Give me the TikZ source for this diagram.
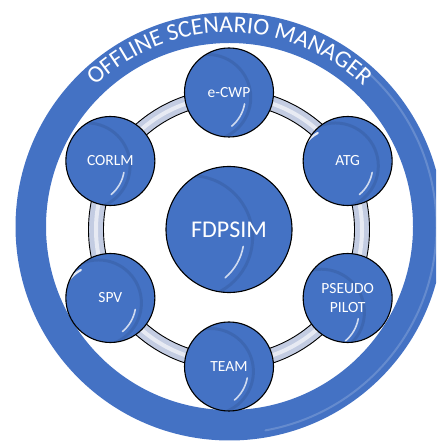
\documentclass[tikz,border=0pt]{standalone}
\usepackage{fontspec}
\setmainfont{Carlito}
\usetikzlibrary{decorations.text}
\definecolor{ballblue}{HTML}{4472C4}
\definecolor{tubefill}{HTML}{C3CCE2}

\begin{document}
\begin{tikzpicture}[x=1pt,y=1pt,
  ball/.style={circle, draw=black, line width=1.1pt, fill=ballblue,
    minimum size=2*#1pt, inner sep=0pt, text=white, align=center,
    path picture={
      \draw[ballblue!65!black, line width=3pt, opacity=.25,
        shift={(path picture bounding box.center)}]
        (0,0) circle[radius={#1-1.5}];
      \draw[white, line width=2.2pt, line cap=round, opacity=.85,
        shift={(path picture bounding box.center)}]
        (118:{0.84*#1}) arc[start angle=118, end angle=170, radius={0.84*#1}];
      \draw[white, line width=1.6pt, line cap=round, opacity=.75,
        shift={(path picture bounding box.center)}]
        (-10:{0.84*#1}) arc[start angle=-10, end angle=-50, radius={0.84*#1}];
    }},
  smalllabel/.style={font=\fontsize{15.5}{18.5}\selectfont},
  hublabel/.style={font=\fontsize{24}{28}\selectfont},
]
\useasboundingbox (0,0) rectangle (436,441);
\clip (0,0) rectangle (436,441);

\coordinate (O) at (229.5,214.5);
\coordinate (C) at (229,211.5);

% outer band with its title
\fill[ballblue, even odd rule] (O) circle[radius=214] (O) circle[radius=183.5];
\draw[white, opacity=.18, line width=2pt, line cap=round]
  ([shift={(50:207)}]O) arc[start angle=50, end angle=-80, radius=207];
\path[decorate, decoration={text along path, text align=center, text color=white,
  text={|\fontsize{24}{29}\selectfont|OFFLINE SCENARIO MANAGER}}]
  ([shift={(160:194)}]O) arc[start angle=160, end angle=20, radius=194];

% tube linking the satellites
\fill[tubefill, even odd rule] (C) circle[radius=140.5] (C) circle[radius=125.5];
\draw[white, opacity=.6, line width=4pt] (C) circle[radius=133];
\draw[black, line width=0.9pt] (C) circle[radius=140.5] (C) circle[radius=125.5];

% hub and satellites
\node[ball=63, hublabel] (hub) at (C) {FDPSIM};
\node[ball=44.5, smalllabel] (ecwp) at ([shift={(90:137)}]C) {e-CWP};
\node[ball=44.5, smalllabel] (atg) at ([shift={(30:137)}]C) {ATG};
\node[ball=44.5, smalllabel] (pseudo) at ([shift={(-30:137)}]C) {PSEUDO\\PILOT};
\node[ball=44.5, smalllabel] (team) at ([shift={(-90:137)}]C) {TEAM};
\node[ball=44.5, smalllabel] (spv) at ([shift={(-150:137)}]C) {SPV};
\node[ball=44.5, smalllabel] (corlm) at ([shift={(150:137)}]C) {CORLM};
\end{tikzpicture}
\end{document}
